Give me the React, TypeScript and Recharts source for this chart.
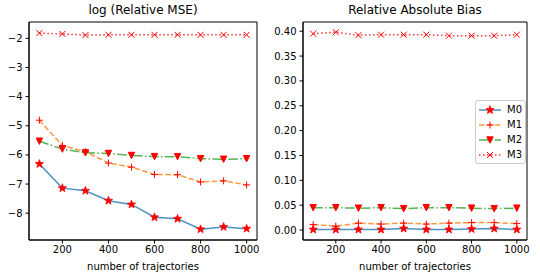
import React from 'react';
import { LineChart, Line, XAxis, YAxis, ReferenceArea } from 'recharts';

const trajectories = [100, 200, 300, 400, 500, 600, 700, 800, 900, 1000];

const mseM0 = [-6.31, -7.14, -7.23, -7.57, -7.7, -8.14, -8.19, -8.55, -8.47, -8.53];
const mseM1 = [-4.81, -5.68, -5.89, -6.28, -6.42, -6.67, -6.68, -6.93, -6.89, -7.03];
const mseM2 = [-5.53, -5.8, -5.93, -5.95, -6.02, -6.06, -6.06, -6.13, -6.15, -6.13];
const mseM3 = [-1.82, -1.85, -1.89, -1.88, -1.88, -1.88, -1.88, -1.88, -1.88, -1.88];

const biasM0 = [0.001, 0.001, 0.001, 0.001, 0.003, 0.001, 0.001, 0.002, 0.003, 0.001];
const biasM1 = [0.011, 0.008, 0.014, 0.012, 0.014, 0.012, 0.014, 0.015, 0.015, 0.013];
const biasM2 = [0.045, 0.045, 0.044, 0.045, 0.043, 0.045, 0.045, 0.044, 0.043, 0.044];
const biasM3 = [0.395, 0.398, 0.392, 0.393, 0.393, 0.393, 0.391, 0.391, 0.391, 0.393];

const xTicks = [200, 400, 600, 800, 1000];
const mseTicks = [-8, -7, -6, -5, -4, -3, -2];
const biasTicks = [0, 0.05, 0.1, 0.15, 0.2, 0.25, 0.3, 0.35, 0.4];

const FONT = 'DejaVu Sans, sans-serif';
const X_DOMAIN: [number, number] = [55, 1045];

type MarkProps = { cx?: number; cy?: number };

const StarMark = ({ cx = 0, cy = 0 }: MarkProps) => {
  const pts: string[] = [];
  for (let i = 0; i < 10; i++) {
    const r = i % 2 === 0 ? 4.3 : 1.8;
    const a = -Math.PI / 2 + (i * Math.PI) / 5;
    pts.push(`${cx + r * Math.cos(a)},${cy + r * Math.sin(a)}`);
  }
  return <polygon points={pts.join(' ')} fill="#ff0000" stroke="#ff0000" strokeWidth={0.8} />;
};

const PlusMark = ({ cx = 0, cy = 0 }: MarkProps) => (
  <g stroke="#ff0000" strokeWidth={1}>
    <line x1={cx - 3.5} y1={cy} x2={cx + 3.5} y2={cy} />
    <line x1={cx} y1={cy - 3.5} x2={cx} y2={cy + 3.5} />
  </g>
);

const TriMark = ({ cx = 0, cy = 0 }: MarkProps) => (
  <polygon
    points={`${cx - 3.2},${cy - 3.2} ${cx + 3.2},${cy - 3.2} ${cx},${cy + 3.2}`}
    fill="#ff0000"
    stroke="#ff0000"
    strokeWidth={1}
  />
);

const XMark = ({ cx = 0, cy = 0 }: MarkProps) => (
  <g stroke="#ff0000" strokeWidth={1}>
    <line x1={cx - 3} y1={cy - 3} x2={cx + 3} y2={cy + 3} />
    <line x1={cx - 3} y1={cy + 3} x2={cx + 3} y2={cy - 3} />
  </g>
);

const series = [
  { key: 'M0', color: '#1f77b4', dash: undefined, Mark: StarMark },
  { key: 'M1', color: '#ff7f0e', dash: '5.5 2.4', Mark: PlusMark },
  { key: 'M2', color: '#2ca02c', dash: '9.6 2.4 1.5 2.4', Mark: TriMark },
  { key: 'M3', color: '#ff0000', dash: '1.5 2.5', Mark: XMark },
];

const mseData = trajectories.map((t, i) => ({
  n: t,
  M0: mseM0[i],
  M1: mseM1[i],
  M2: mseM2[i],
  M3: mseM3[i],
}));

const biasData = trajectories.map((t, i) => ({
  n: t,
  M0: biasM0[i],
  M1: biasM1[i],
  M2: biasM2[i],
  M3: biasM3[i],
}));

const tickStyle = { fill: '#000', fontSize: 10, fontFamily: FONT };

const LegendBox = ({ left, top }: { left: number; top: number }) => (
  <div
    style={{
      position: 'absolute',
      left,
      top,
      width: 51,
      boxSizing: 'border-box',
      border: '1px solid #cccccc',
      borderRadius: 3,
      background: 'rgba(255,255,255,0.8)',
      padding: '1px 0 1px 2px',
      fontFamily: FONT,
      fontSize: 10,
      color: '#000',
    }}
  >
    {series.map(({ key, color, dash, Mark }) => (
      <div key={key} style={{ display: 'flex', alignItems: 'center', height: 15 }}>
        <svg width={26} height={12}>
          <line x1={1} y1={6} x2={23} y2={6} stroke={color} strokeWidth={1.5} strokeDasharray={dash} opacity={0.8} />
          <Mark cx={12} cy={6} />
        </svg>
        <span style={{ marginLeft: 3 }}>{key}</span>
      </div>
    ))}
  </div>
);

interface PanelProps {
  title: string;
  data: Record<string, number>[];
  domain: [number, number];
  ticks: number[];
  yWidth: number;
  fmt: (v: number) => string;
  left: number;
  legend?: boolean;
}

const Panel = ({ title, data, domain, ticks, yWidth, fmt, left, legend }: PanelProps) => (
  <div style={{ position: 'absolute', left, top: 0, width: 270, height: 278 }}>
    <div
      style={{
        position: 'absolute',
        left: yWidth,
        width: 257 - yWidth,
        top: 3,
        textAlign: 'center',
        fontFamily: FONT,
        fontSize: 12,
        color: '#000',
      }}
    >
      {title}
    </div>
    <LineChart width={270} height={278} data={data} margin={{ top: 22, right: 13, bottom: 0, left: 0 }}>
      <XAxis
        dataKey="n"
        type="number"
        domain={X_DOMAIN}
        ticks={xTicks}
        tick={tickStyle}
        tickSize={3.5}
        tickMargin={2}
        height={38}
        stroke="#000"
        allowDataOverflow
        label={{
          value: 'number of trajectories',
          position: 'insideBottom',
          offset: 8,
          style: { fill: '#000', fontSize: 10, fontFamily: FONT },
        }}
      />
      <YAxis
        type="number"
        domain={domain}
        ticks={ticks}
        tick={tickStyle}
        tickFormatter={fmt}
        tickSize={3.5}
        tickMargin={3}
        width={yWidth}
        stroke="#000"
        allowDataOverflow
      />
      <ReferenceArea
        x1={X_DOMAIN[0]}
        x2={X_DOMAIN[1]}
        y1={domain[0]}
        y2={domain[1]}
        fill="none"
        stroke="#000"
        strokeWidth={1}
        ifOverflow="visible"
      />
      {series.map(({ key, color, dash, Mark }) => (
        <Line
          key={key}
          dataKey={key}
          stroke={color}
          strokeOpacity={0.8}
          strokeWidth={1.5}
          strokeDasharray={dash}
          isAnimationActive={false}
          dot={(p: any) => <Mark key={`${key}-${p.index}`} cx={p.cx} cy={p.cy} />}
          activeDot={false}
        />
      ))}
    </LineChart>
    {legend && <LegendBox left={205} top={100} />}
  </div>
);

const minus = (s: string) => s.replace('-', '\u2212');

export default function App() {
  return (
    <div style={{ position: 'absolute', left: 0, top: 0, width: 540, height: 278, background: '#fff' }}>
      <Panel
        title="log (Relative MSE)"
        data={mseData}
        domain={[-8.92, -1.44]}
        ticks={mseTicks}
        yWidth={29}
        fmt={(v) => minus(String(v))}
        left={0}
      />
      <Panel
        title="Relative Absolute Bias"
        data={biasData}
        domain={[-0.02, 0.4185]}
        ticks={biasTicks}
        yWidth={33}
        fmt={(v) => v.toFixed(2)}
        left={270}
        legend
      />
    </div>
  );
}
